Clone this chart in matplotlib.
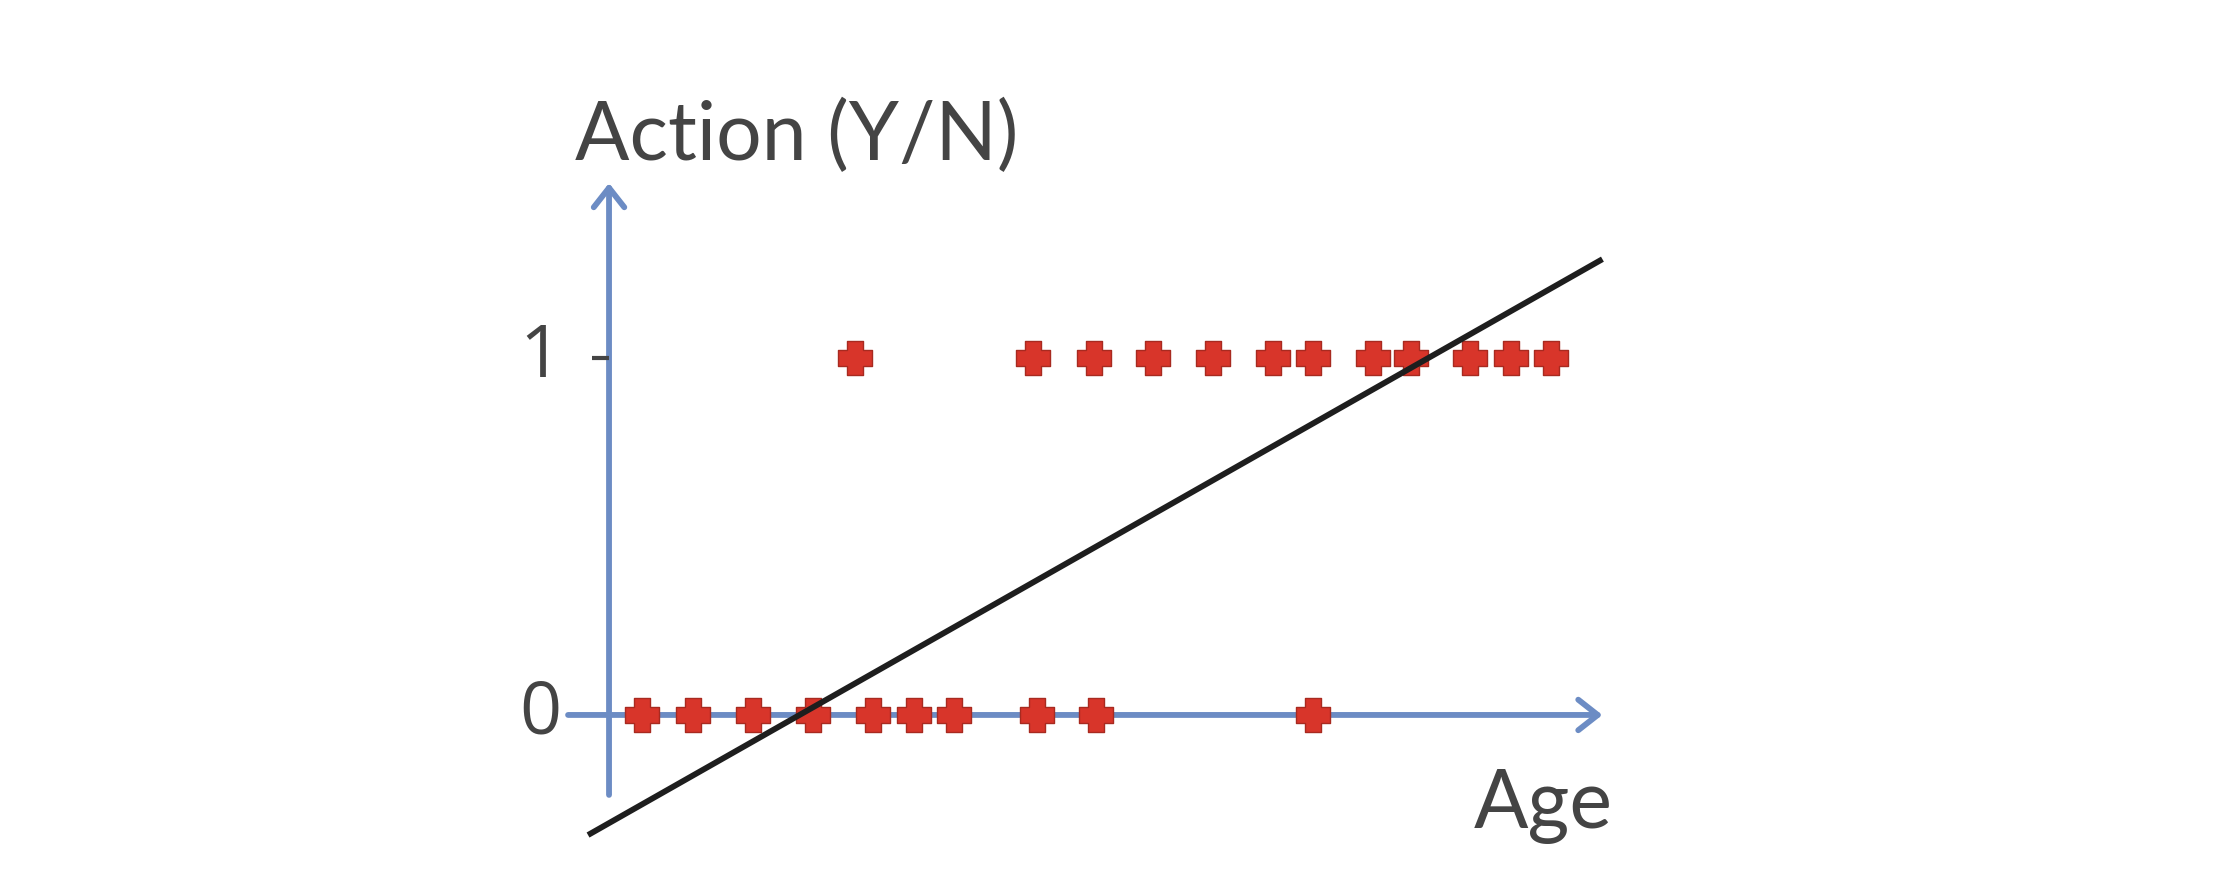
import matplotlib
matplotlib.use("Agg")
import matplotlib.pyplot as plt
import numpy as np
from matplotlib.path import Path

# ---- data ----
ages_no = [2.3, 5.9, 10.1, 14.3, 18.5, 21.4, 24.2, 30.0, 34.1, 49.3]
action_no = [0] * len(ages_no)
ages_yes = [17.2, 29.7, 34.0, 38.1, 42.3, 46.5, 49.3, 53.5, 56.2, 60.3, 63.2, 66.0]
action_yes = [1] * len(ages_yes)
fit_intercept = -0.303
fit_slope = 0.0227
fit_range = [-1.47, 69.6]
ytick_values = [0, 1]
ytick_labels = ["0", "1"]
xlabel = "Age"
ylabel = "Action (Y/N)"

AXIS_BLUE = "#6c8cc4"
TEXT_GRAY = "#444444"
RED = "#d8352a"
RED_EDGE = "#a82a20"

fig = plt.figure(figsize=(22.38, 8.92), dpi=100)
ax = fig.add_axes([0, 0, 1, 1])
ax.set_xlim(-42.67, 114.13)
ax.set_ylim(-0.496, 2.003)
ax.axis("off")

# axes with arrows
ax.annotate("", xy=(69.6, 0), xytext=(-2.87, 0),
            arrowprops=dict(arrowstyle="->,head_length=1.4,head_width=1.1",
                            lw=4.2, color=AXIS_BLUE, mutation_scale=10,
                            shrinkA=0, shrinkB=0), zorder=1)
ax.annotate("", xy=(0, 1.49), xytext=(0, -0.224),
            arrowprops=dict(arrowstyle="->,head_length=1.4,head_width=1.1",
                            lw=4.2, color=AXIS_BLUE, mutation_scale=10,
                            shrinkA=0, shrinkB=0), zorder=1)
# tick mark at y=1
ax.plot([-1.2, 0], [1, 1], color=TEXT_GRAY, lw=3, solid_capstyle="butt", zorder=1)

# tick labels
for v, lab in zip(ytick_values, ytick_labels):
    ax.text(-4.8, v, lab, ha="center", va="center", fontsize=53,
            family="Open Sans", color=TEXT_GRAY)

ax.text(-2.4, 1.555, ylabel, ha="left", va="baseline", fontsize=58,
        family="Lato", color=TEXT_GRAY)
ax.text(70.3, -0.317, xlabel, ha="right", va="baseline", fontsize=58,
        family="Lato", color=TEXT_GRAY)

# plus marker with thick arms
w = 0.23
plus_verts = [(-w, -0.5), (-w, -w), (-0.5, -w), (-0.5, w), (-w, w), (-w, 0.5),
              (w, 0.5), (w, w), (0.5, w), (0.5, -w), (w, -w), (w, -0.5), (-w, -0.5)]
plus_marker = Path(plus_verts, closed=True)

ax.plot(ages_no, action_no, ls="none", marker=plus_marker, markersize=25,
        markerfacecolor=RED, markeredgecolor=RED_EDGE, markeredgewidth=1.0, zorder=2)
ax.plot(ages_yes, action_yes, ls="none", marker=plus_marker, markersize=25,
        markerfacecolor=RED, markeredgecolor=RED_EDGE, markeredgewidth=1.0, zorder=2)

# fitted straight line
xs = np.array(fit_range)
ax.plot(xs, fit_intercept + fit_slope * xs, color="#1e1e1e", lw=4.2,
        solid_capstyle="butt", zorder=3)

fig.savefig("out.png", dpi=100, facecolor="white")
